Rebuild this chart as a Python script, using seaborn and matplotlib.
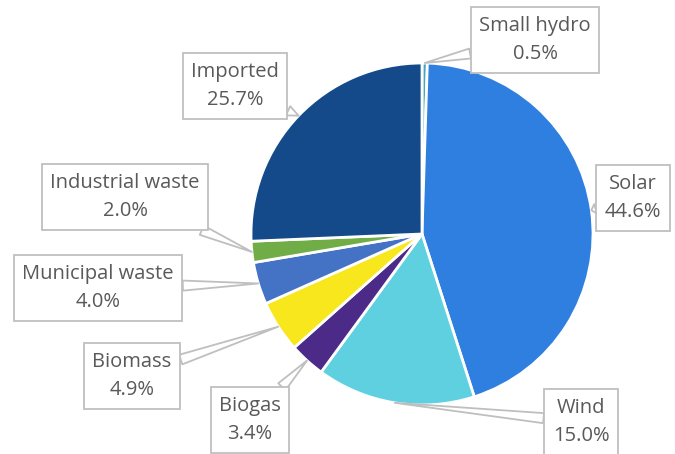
import matplotlib.pyplot as plt
import seaborn as sns
import numpy as np

# Electricity supply share by source
sources = ["Small hydro", "Solar", "Wind", "Biogas", "Biomass",
           "Municipal waste", "Industrial waste", "Imported"]
shares = [0.5, 44.6, 15.0, 3.4, 4.9, 4.0, 2.0, 25.7]
colors = ["#45A8B8", "#2E7FE0", "#5FD0E0", "#4B2A88", "#F8E71C",
          "#4472C4", "#70AD47", "#154A8A"]

# label box centres in pixel coords (x, y from top)
label_pos = [(535, 40), (633, 198), (581, 422), (250, 420), (132, 376),
             (98, 288), (125, 197), (235, 86)]

W, H = 675, 454
sns.set_theme(style="white")
plt.rcParams["font.family"] = ["Open Sans", "DejaVu Sans"]

fig = plt.figure(figsize=(W / 100, H / 100), dpi=100)
ax = fig.add_axes([0, 0, 1, 1])

cx, cy, r = 422, H - 234, 171
wedges, _ = ax.pie(shares, colors=colors, startangle=90, counterclock=False,
                   center=(cx, cy), radius=r, frame=True,
                   wedgeprops=dict(edgecolor="white", linewidth=2))
ax.set_xlim(0, W)
ax.set_ylim(0, H)
ax.set_aspect("equal")
ax.axis("off")

for w, name, val, (px, py) in zip(wedges, sources, shares, label_pos):
    mid = np.deg2rad((w.theta1 + w.theta2) / 2)
    tip = (cx + r * np.cos(mid), cy + r * np.sin(mid))
    ax.annotate(f"{name}\n{val:.1f}%", xy=tip, xytext=(px, H - py),
                ha="center", va="center", fontsize=14.5, color="#595959",
                linespacing=1.55,
                bbox=dict(boxstyle="square,pad=0.42", fc="white",
                          ec="#BFBFBF", lw=1.3),
                arrowprops=dict(arrowstyle="wedge,tail_width=0.5,shrink_factor=0.5",
                                fc="white", ec="#BFBFBF", lw=1.3,
                                shrinkA=0, shrinkB=0))

fig.savefig("out.png", dpi=100)
